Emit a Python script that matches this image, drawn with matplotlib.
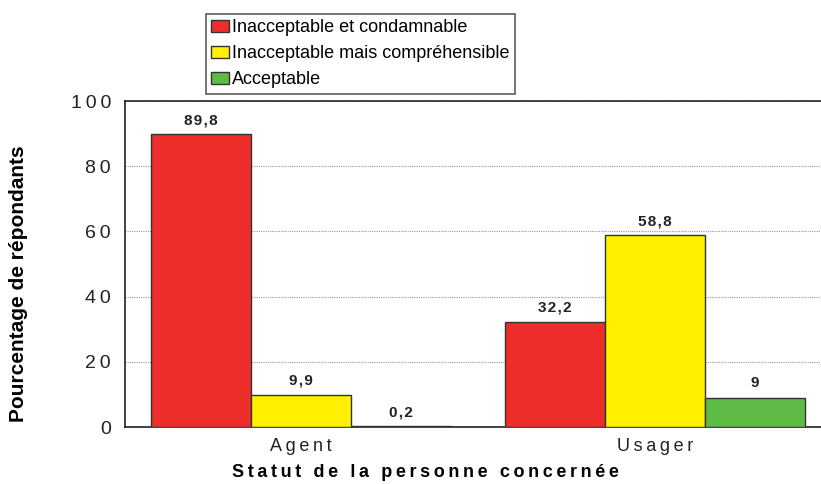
import matplotlib
matplotlib.use("Agg")
import matplotlib.pyplot as plt
import numpy as np

# Données
groupes = ["Agent", "Usager"]
series = ["Inacceptable et condamnable", "Inacceptable mais compréhensible", "Acceptable"]
condamnable = [89.8, 32.2]
comprehensible = [9.9, 58.8]
acceptable = [0.2, 9.0]
etiquettes = [["89,8", "32,2"], ["9,9", "58,8"], ["0,2", "9"]]
couleurs = ["#EE2E2B", "#FFF000", "#5DBB46"]

plt.rcParams['font.family'] = ['Liberation Sans', 'DejaVu Sans']


def espace(s, sep="\u2009"):
    # lettres espacées comme dans l'original
    return sep.join(s)


fig = plt.figure(figsize=(8.21, 4.84), dpi=100)
ax = fig.add_axes([125 / 821, 1 - 427 / 484, (821 - 125) / 821, (427 - 101) / 484])

x = np.arange(len(groupes))
largeur = 0.2825
valeurs = [condamnable, comprehensible, acceptable]
for i, (vals, nom, c) in enumerate(zip(valeurs, series, couleurs)):
    barres = ax.bar(x + (i - 1) * largeur, vals, largeur, color=c, edgecolor="#333333",
                    linewidth=1, label=nom, zorder=3)
    for b, txt in zip(barres, etiquettes[i]):
        ax.text(b.get_x() + b.get_width() / 2, b.get_height() + 2.2, espace(txt, "\u200a"),
                ha="center", va="bottom", fontsize=11, fontweight="bold", color="#222222")

ax.set_ylim(0, 100)
ax.set_xlim(-0.497, 1.469)
yt = [0, 20, 40, 60, 80, 100]
ax.set_yticks(yt)
ax.set_yticklabels([espace(str(v)) for v in yt])
ax.set_xticks(x)
ax.set_xticklabels([espace(g) for g in groupes])
ax.tick_params(axis="both", length=0, colors="#222222")
ax.tick_params(axis="y", pad=10, labelsize=14)
ax.tick_params(axis="x", pad=8, labelsize=13)
ax.yaxis.grid(True, linestyle=(0, (1, 1)), color="#999999", linewidth=0.8, zorder=0)
ax.spines["right"].set_visible(False)
for s in ["left", "top", "bottom"]:
    ax.spines[s].set_color("#222222")
    ax.spines[s].set_linewidth(1.2)

ax.set_xlabel(espace("Statut de la personne concernée"), fontsize=13, fontweight="bold")
ax.xaxis.set_label_coords(0.431, -0.115)
ax.set_ylabel("Pourcentage de répondants", fontsize=15, fontweight="bold")
ax.yaxis.set_label_coords(-0.14, 0.44)

leg = fig.legend(loc="upper left", bbox_to_anchor=(206 / 821, 1 - 14 / 484), fontsize=13,
                 frameon=True, fancybox=False, edgecolor="#333333", handlelength=1.0,
                 handleheight=0.7, handletextpad=0.15, borderpad=0.29, labelspacing=0.5,
                 borderaxespad=0)
leg.get_frame().set_linewidth(1.2)

fig.savefig("out.png", dpi=100)
